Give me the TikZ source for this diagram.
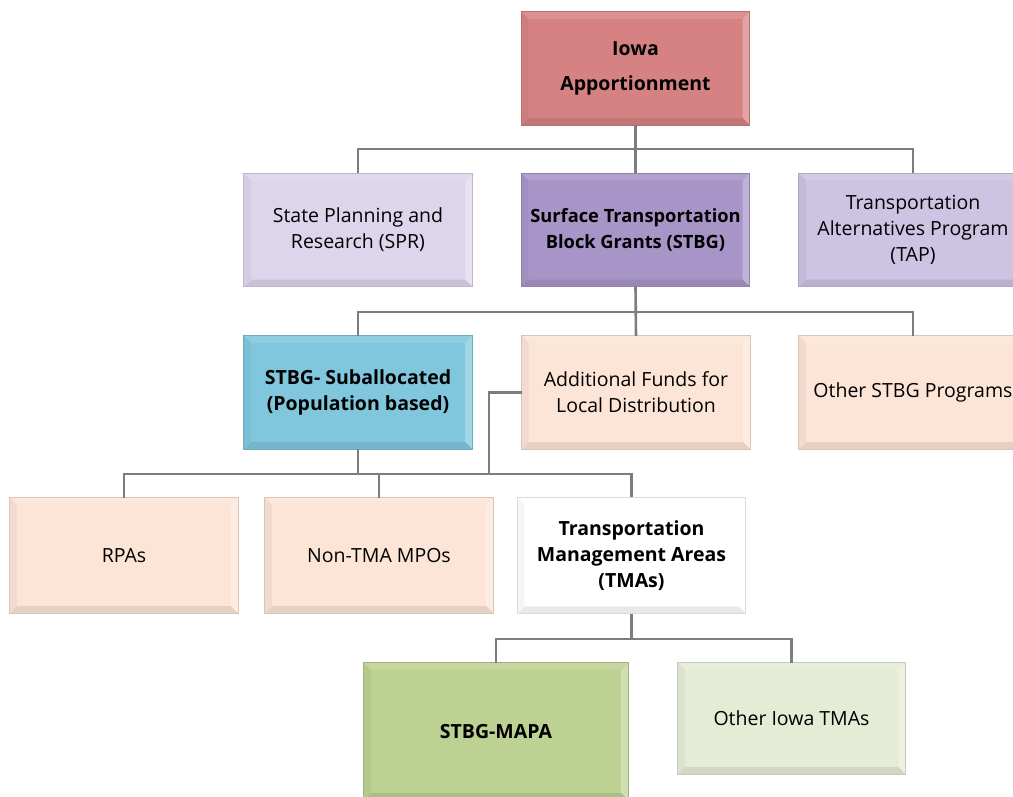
\documentclass[tikz,border=0pt]{standalone}
\usepackage{fontspec}
\setmainfont{Open Sans}
\definecolor{iowared}{RGB}{214,130,131}
\definecolor{sprlilac}{RGB}{221,213,236}
\definecolor{stbgpurple}{RGB}{168,149,200}
\definecolor{taplilac}{RGB}{205,195,226}
\definecolor{subblue}{RGB}{128,199,221}
\definecolor{peach}{RGB}{252,228,214}
\definecolor{mapagreen}{RGB}{189,209,146}
\definecolor{palegreen}{RGB}{228,236,214}
\definecolor{conngray}{RGB}{125,125,128}
\newcommand{\bevelbox}[2]{
    \fill[#2!88!white] (#1.north west) -- (#1.north east) -- ([shift={(-7,7)}]#1.north east) -- ([shift={(7,7)}]#1.north west) -- cycle;
    \fill[#2!72!white] (#1.north east) -- (#1.south east) -- ([shift={(-7,-7)}]#1.south east) -- ([shift={(-7,7)}]#1.north east) -- cycle;
    \fill[#2!91!black] (#1.south east) -- (#1.south west) -- ([shift={(7,-7)}]#1.south west) -- ([shift={(-7,-7)}]#1.south east) -- cycle;
    \fill[#2!96!black] (#1.south west) -- (#1.north west) -- ([shift={(7,7)}]#1.north west) -- ([shift={(7,-7)}]#1.south west) -- cycle;
    \draw[#2!86!black, line width=0.8] (#1.north west) rectangle (#1.south east);
}

\begin{document}
\begin{tikzpicture}[x=1pt, y=-1pt,
        box/.style={minimum width=228pt, minimum height=113pt, align=center, inner sep=0pt, font=\fontsize{19.5}{26}\selectfont},
        boldbox/.style={box, font=\bfseries\fontsize{19.5}{26}\selectfont},
        conn/.style={draw=conngray, line width=2.6pt}]
    \useasboundingbox (0,0) rectangle (1013,797);
    \clip (0,0) rectangle (1013,797);

    \node[boldbox, fill=iowared, font=\bfseries\fontsize{19.5}{35}\selectfont] (iowa) at (635.5,68.5) {Iowa\\Apportionment};
    \node[box, fill=sprlilac] (spr) at (358,230) {State Planning and\\Research (SPR)};
    \node[boldbox, fill=stbgpurple, font=\bfseries\fontsize{18.3}{26}\selectfont] (stbg) at (635.5,230) {Surface Transportation\\Block Grants (STBG)};
    \node[box, fill=taplilac] (tap) at (913,230) {Transportation\\Alternatives Program\\(TAP)};
    \node[boldbox, fill=subblue] (sub) at (358,392.5) {STBG- Suballocated\\(Population based)};
    \node[box, fill=peach] (adfunds) at (636,392.5) {Additional Funds for\\Local Distribution};
    \node[box, fill=peach] (other) at (913,392.5) {Other STBG Programs};
    \node[box, fill=peach, minimum height=115pt] (rpa) at (124,555.5) {RPAs};
    \node[box, fill=peach, minimum height=115pt] (nontma) at (379,555.5) {Non-TMA MPOs};
    \node[boldbox, fill=white, minimum height=116pt] (tma) at (631.5,555.5) {Transportation\\Management Areas\\(TMAs)};
    \node[boldbox, fill=mapagreen, minimum width=264pt, minimum height=137pt] (mapa) at (496,731.5) {STBG-MAPA};
    \node[box, fill=palegreen, minimum width=227pt, minimum height=111pt] (otheriowa) at (791.5,718.5) {Other Iowa TMAs};

    \bevelbox{iowa}{iowared}
    \bevelbox{spr}{sprlilac}
    \bevelbox{stbg}{stbgpurple}
    \bevelbox{tap}{taplilac}
    \bevelbox{sub}{subblue}
    \bevelbox{adfunds}{peach}
    \bevelbox{other}{peach}
    \bevelbox{rpa}{peach}
    \bevelbox{nontma}{peach}
    \bevelbox{tma}{white}
    \bevelbox{mapa}{mapagreen}
    \bevelbox{otheriowa}{palegreen}

    \coordinate (bus1) at (635.5,149);
    \coordinate (bus2) at (635.5,312);
    \coordinate (bus3) at (358,474);
    \coordinate (elbow) at (489,474);
    \coordinate (bus4) at (631.5,639);

    \draw[conn] (iowa.south) -- (stbg.north);
    \draw[conn] (spr.north) |- (bus1) -| (tap.north);
    \draw[conn] (stbg.south) -- (adfunds.north);
    \draw[conn] (sub.north) |- (bus2) -| (other.north);
    \draw[conn] (sub.south) -- (bus3);
    \draw[conn] (rpa.north) |- (bus3) -| (tma.north);
    \draw[conn] (nontma.north) -- (nontma.north |- bus3);
    \draw[conn] (adfunds.west) -| (elbow);
    \draw[conn] (tma.south) -- (bus4);
    \draw[conn] (mapa.north) |- (bus4) -| (otheriowa.north);
\end{tikzpicture}
\end{document}
